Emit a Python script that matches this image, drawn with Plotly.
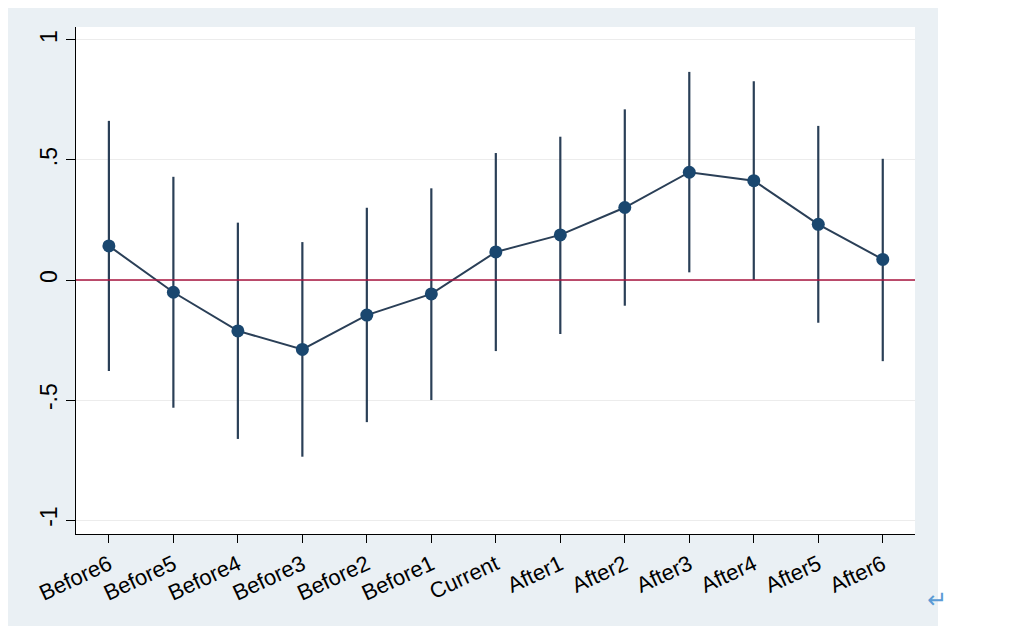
import plotly.graph_objects as go

categories = ["Before6", "Before5", "Before4", "Before3", "Before2", "Before1",
              "Current", "After1", "After2", "After3", "After4", "After5", "After6"]
coef = [0.142, -0.051, -0.212, -0.289, -0.146, -0.058,
        0.117, 0.188, 0.302, 0.449, 0.414, 0.232, 0.086]
ci_upper = [0.663, 0.430, 0.239, 0.158, 0.301, 0.382,
            0.529, 0.597, 0.711, 0.867, 0.828, 0.642, 0.505]
ci_lower = [-0.379, -0.532, -0.662, -0.736, -0.592, -0.500,
            -0.296, -0.225, -0.107, 0.032, 0.000, -0.178, -0.338]
y_ticks = [-1, -0.5, 0, 0.5, 1]
y_tick_labels = ["-1", "-.5", "0", ".5", "1"]

err_plus = [u - c for u, c in zip(ci_upper, coef)]
err_minus = [c - l for c, l in zip(coef, ci_lower)]

FONT = "Liberation Sans, Arial, Helvetica, sans-serif"
BG = "#eaf0f4"

fig = go.Figure()

# confidence intervals (spikes, no caps)
fig.add_trace(go.Scatter(
    x=categories, y=coef, mode="markers",
    marker=dict(size=1, color="rgba(0,0,0,0)"),
    error_y=dict(type="data", symmetric=False, array=err_plus, arrayminus=err_minus,
                 width=0, thickness=2.2, color="#2a3f57"),
    showlegend=False, hoverinfo="skip",
))

# zero reference line
fig.add_trace(go.Scatter(
    x=[-0.51, 12.5], y=[0, 0], mode="lines",
    line=dict(color="#a8143f", width=1.6),
    showlegend=False, hoverinfo="skip", xaxis="x2",
))

# coefficient line + markers
fig.add_trace(go.Scatter(
    x=categories, y=coef, mode="lines+markers",
    line=dict(color="#2a3f57", width=2),
    marker=dict(size=13, color="#1a476f"),
    showlegend=False,
))

# page body has an 8px margin, so figure coordinates are shifted by 8
plot_l, plot_r, plot_t, plot_b = 68, 907, 19, 526
W, H = 1010, 630
pw, ph = plot_r - plot_l, plot_b - plot_t

def px(x):
    return (x - plot_l) / pw

def py(y):
    return (plot_b - y) / ph

fig.update_layout(
    width=W, height=H,
    margin=dict(l=plot_l, r=W - plot_r, t=plot_t, b=H - plot_b, pad=0),
    paper_bgcolor="white",
    plot_bgcolor="rgba(0,0,0,0)",
    font=dict(family=FONT, size=20, color="black"),
    shapes=[
        dict(type="rect", xref="paper", yref="paper",
             x0=px(0), x1=px(930), y0=py(618), y1=py(0),
             fillcolor=BG, line=dict(width=0), layer="below"),
        dict(type="rect", xref="paper", yref="paper",
             x0=0, x1=1, y0=0, y1=1,
             fillcolor="white", line=dict(width=0), layer="below"),
    ],
    annotations=[
        dict(text="↵", xref="paper", yref="paper", x=px(941), y=py(608),
             showarrow=False, font=dict(size=24, color="#5b9bd5", family="DejaVu Sans")),
    ],
    xaxis=dict(
        type="category", categoryorder="array", categoryarray=categories,
        range=[-0.51, 12.5], showgrid=False, zeroline=False,
        showline=True, linecolor="black", linewidth=1.2,
        ticks="outside", ticklen=8, tickwidth=1.2, tickcolor="black",
        tickangle=-25, tickfont=dict(size=22, family=FONT),
    ),
    xaxis2=dict(range=[-0.51, 12.5], overlaying="x", visible=False),
    yaxis=dict(
        range=[-1.058, 1.054], tickvals=y_ticks, ticktext=y_tick_labels,
        showgrid=True, gridcolor="#ececec", gridwidth=1, zeroline=False,
        showline=True, linecolor="black", linewidth=1.2,
        ticks="outside", ticklen=9, tickwidth=1.2, tickcolor="black",
        tickangle=-90, tickfont=dict(size=23, family=FONT),
    ),
)

fig.write_html("out.html")
